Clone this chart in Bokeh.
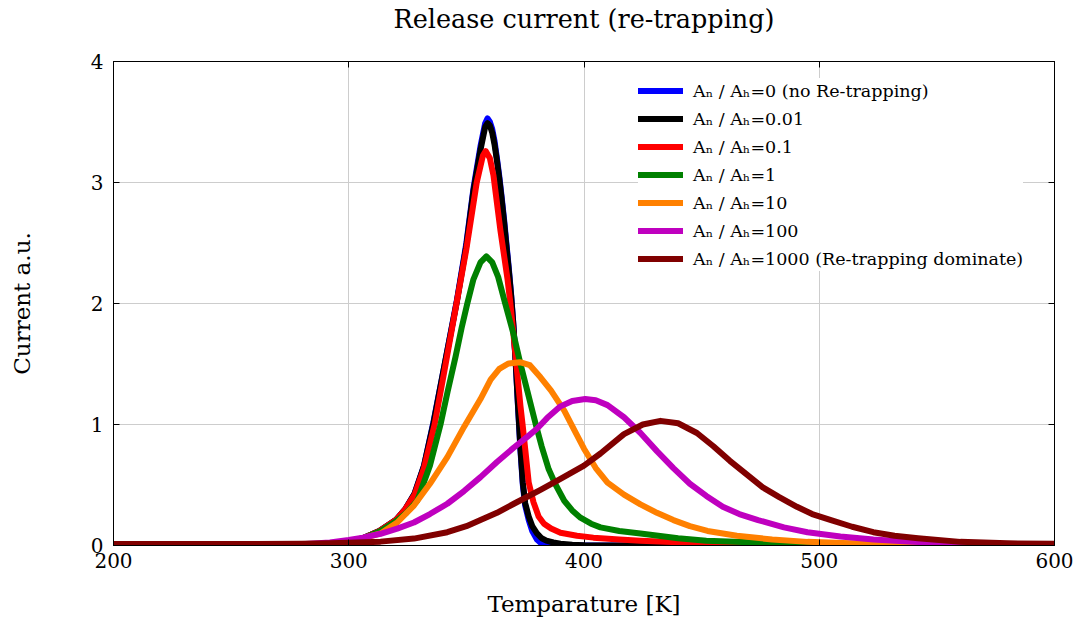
from bokeh.plotting import figure
from bokeh.models import Legend, LegendItem, LinearAxis, FixedTicker, Range1d, CustomLabelingPolicy
from bokeh.embed import file_html
from bokeh.resources import INLINE

# ---------------- data ----------------
title_text = "Release current (re-trapping)"
x_ticks = [200, 300, 400, 500, 600]
y_ticks = [0, 1, 2, 3, 4]

labels = [
    "Aₙ / Aₕ=0 (no Re-trapping)",
    "Aₙ / Aₕ=0.01",
    "Aₙ / Aₕ=0.1",
    "Aₙ / Aₕ=1",
    "Aₙ / Aₕ=10",
    "Aₙ / Aₕ=100",
    "Aₙ / Aₕ=1000 (Re-trapping dominate)",
]
colors = ["#0000ff", "#000000", "#ff0000", "#008000", "#ff8000", "#bf00bf", "#800000"]

t_r0 = [200, 260, 280, 290, 300, 306, 313, 320, 324, 328, 332, 336, 341, 346, 350, 353, 356, 358,
        359, 360, 361, 362, 363, 364, 365, 366, 367, 368, 369, 370, 371, 372, 373, 374, 375,
        376.5, 378, 380, 382, 384, 390, 600]
i_r0 = [0, 0.002, 0.006, 0.014, 0.03, 0.06, 0.12, 0.21, 0.3, 0.43, 0.66, 1.02, 1.52, 2.03, 2.5,
        2.95, 3.3, 3.49, 3.53, 3.5, 3.44, 3.34, 3.2, 3.05, 2.88, 2.7, 2.5, 2.3, 2.08, 1.82, 1.5,
        1.13, 0.78, 0.5, 0.33, 0.21, 0.12, 0.05, 0.015, 0.0, 0.0, 0.0]

t_r001 = [200, 260, 280, 290, 300, 306, 313, 320, 324, 328, 332, 336, 341, 346, 350, 353, 356, 358,
          359, 360, 361, 362, 363, 364, 365, 366, 367, 368, 369, 370, 371, 372, 373, 374, 375,
          376.5, 378, 380, 382, 384, 387, 390, 395, 400, 410, 600]
i_r001 = [0, 0.002, 0.006, 0.014, 0.03, 0.06, 0.12, 0.21, 0.3, 0.43, 0.66, 1.01, 1.52, 2.02, 2.48,
          2.93, 3.27, 3.46, 3.49, 3.47, 3.41, 3.31, 3.18, 3.03, 2.86, 2.68, 2.48, 2.28, 2.07, 1.82,
          1.5, 1.14, 0.8, 0.52, 0.35, 0.24, 0.16, 0.1, 0.06, 0.04, 0.025, 0.015, 0.007, 0.003,
          0.0, 0.0]

t_r01 = [200, 260, 280, 290, 300, 306, 313, 320, 324, 328, 332, 336.5, 341, 345.8, 350, 354.4, 357,
         358.2, 360, 361.5, 363, 364.5, 366, 367.5, 368.6, 370, 371.5, 373, 374, 375, 376.5,
         378.5, 380.7, 383, 386, 390, 397, 404, 415, 424, 440, 460, 490, 530, 600]
i_r01 = [0, 0.002, 0.006, 0.014, 0.03, 0.06, 0.12, 0.21, 0.3, 0.42, 0.64, 1.0, 1.48, 2.0, 2.45,
         3.0, 3.22, 3.26, 3.2, 3.06, 2.83, 2.6, 2.4, 2.2, 2.02, 1.75, 1.45, 1.15, 0.98, 0.8, 0.52,
         0.36, 0.24, 0.18, 0.14, 0.105, 0.08, 0.065, 0.05, 0.04, 0.027, 0.016, 0.008, 0.003, 0.0]

t_r1 = [200, 260, 280, 290, 300, 306, 313.5, 320, 324.5, 329.1, 334.5, 339, 342, 345.4, 348, 350.4,
        353, 356, 358.5, 361, 363.5, 366.5, 370, 373, 376, 379.5, 382, 385, 388, 391.6, 395,
        398.5, 403, 407, 415, 424, 440, 452, 480, 520, 560, 600]
i_r1 = [0, 0.002, 0.006, 0.014, 0.03, 0.06, 0.12, 0.2, 0.27, 0.37, 0.66, 1.0, 1.27, 1.56, 1.8, 2.0,
        2.2, 2.34, 2.39, 2.34, 2.22, 2.0, 1.75, 1.5, 1.27, 1.0, 0.82, 0.63, 0.5, 0.37, 0.29,
        0.23, 0.18, 0.15, 0.12, 0.1, 0.06, 0.04, 0.02, 0.008, 0.003, 0.0]

t_r10 = [200, 260, 280, 290, 300, 306, 313.5, 320.6, 327.7, 334.5, 341.9, 349, 356, 360.3, 364, 368,
         372.7, 377, 381.5, 386, 391.6, 396, 400, 405, 410, 417, 424, 431, 438, 445, 452.5, 465,
         480, 495, 510, 530, 560, 600]
i_r10 = [0, 0.002, 0.006, 0.014, 0.03, 0.06, 0.1, 0.19, 0.33, 0.51, 0.73, 0.98, 1.21, 1.37, 1.46,
         1.505, 1.515, 1.49, 1.39, 1.28, 1.115, 0.95, 0.8, 0.64, 0.52, 0.42, 0.34, 0.27, 0.21,
         0.16, 0.12, 0.08, 0.05, 0.03, 0.02, 0.01, 0.004, 0.0]

t_r100 = [200, 260, 280, 292, 300, 306, 313.5, 320.6, 327.7, 334.5, 341.9, 349, 356, 363, 370.2,
          376, 380, 384.4, 390, 395, 400.5, 405, 410, 417, 424, 431, 438, 445, 452, 459, 466, 474,
          485, 495, 509, 523, 540, 560, 580, 600]
i_r100 = [0, 0.003, 0.01, 0.025, 0.045, 0.065, 0.097, 0.14, 0.19, 0.26, 0.345, 0.45, 0.565, 0.69,
          0.81, 0.9, 0.965, 1.055, 1.15, 1.195, 1.21, 1.2, 1.16, 1.06, 0.93, 0.78, 0.64, 0.51,
          0.41, 0.32, 0.26, 0.21, 0.15, 0.11, 0.075, 0.05, 0.03, 0.015, 0.008, 0.004]

t_r1000 = [200, 260, 280, 292, 300, 313.5, 327.7, 341.9, 350, 356, 363, 370.2, 381.5, 390, 400,
           407, 417, 425, 432.5, 440, 448, 455, 462, 469, 476, 483, 490.5, 497, 505, 514, 523,
           532, 542, 560, 580, 600]
i_r1000 = [0.012, 0.012, 0.014, 0.018, 0.022, 0.032, 0.057, 0.11, 0.16, 0.21, 0.27, 0.345, 0.46,
           0.55, 0.66, 0.76, 0.92, 1.0, 1.03, 1.01, 0.93, 0.82, 0.70, 0.59, 0.48, 0.40, 0.32,
           0.26, 0.21, 0.155, 0.11, 0.08, 0.06, 0.03, 0.018, 0.014]

series_t = [t_r0, t_r001, t_r01, t_r1, t_r10, t_r100, t_r1000]
series_i = [i_r0, i_r001, i_r01, i_r1, i_r10, i_r100, i_r1000]

SERIF = "DejaVu Serif"

p = figure(frame_width=941, frame_height=484,
           min_border_left=113, min_border_right=24, min_border_top=61, min_border_bottom=75,
           x_range=Range1d(200, 600), y_range=Range1d(0, 4),
           output_backend="svg", toolbar_location=None,
           title=title_text + "\n\u00a0")

p.title.align = "center"
p.title.vertical_align = "bottom"
p.title.text_font = SERIF
p.title.text_font_style = "normal"
p.title.text_font_size = "25.5px"
p.title.text_line_height = 0.8
p.title.text_color = "black"
p.title.standoff = 0

p.background_fill_color = "white"
p.border_fill_color = "white"
p.outline_line_color = "black"
p.outline_line_width = 1

for ax in (p.xaxis, p.yaxis):
    ax.major_tick_in = 6
    ax.major_tick_out = 0
    ax.minor_tick_line_color = None
    ax.axis_line_color = "black"
    ax.major_tick_line_color = "black"
    ax.major_label_text_font = SERIF
    ax.major_label_text_font_size = "20px"
    ax.major_label_text_color = "black"
    ax.axis_label_text_font = SERIF
    ax.axis_label_text_font_style = "normal"
    ax.axis_label_text_font_size = "23px"
    ax.axis_label_text_color = "black"

p.xaxis.ticker = FixedTicker(ticks=x_ticks)
p.yaxis.ticker = FixedTicker(ticks=y_ticks)
p.xaxis.axis_label = "Temparature [K]"
p.yaxis.axis_label = "Current a.u."
p.xaxis.major_label_standoff = 7
p.xaxis.axis_label_standoff = 20
p.yaxis.major_label_standoff = 10
p.yaxis.axis_label_standoff = 53

hide_all = CustomLabelingPolicy(code="return new Set()")
for loc, tk in (("above", x_ticks), ("right", y_ticks)):
    ax = LinearAxis(ticker=FixedTicker(ticks=tk), major_label_policy=hide_all,
                    major_label_text_font_size="1px",
                    major_tick_in=6, major_tick_out=0, minor_tick_line_color=None,
                    axis_line_color="black", major_label_standoff=0)
    p.add_layout(ax, loc)

p.xgrid.ticker = FixedTicker(ticks=x_ticks)
p.ygrid.ticker = FixedTicker(ticks=y_ticks)
p.xgrid.grid_line_color = "#cdcdcd"
p.ygrid.grid_line_color = "#cdcdcd"

items = []
for t, i, c, lab in zip(series_t, series_i, colors, labels):
    r = p.line(t, i, line_color=c, line_width=6, line_join="round", line_cap="round")
    items.append(LegendItem(label=lab, renderers=[r]))

legend = Legend(items=items, location=(525, 274))
legend.label_text_font = SERIF
legend.label_text_font_size = "17.5px"
legend.label_text_color = "black"
legend.glyph_width = 45
legend.glyph_height = 25
legend.label_height = 25
legend.spacing = 3
legend.padding = 8
legend.margin = 0
legend.label_standoff = 10
legend.border_line_color = None
legend.background_fill_color = "white"
legend.background_fill_alpha = 1.0
p.add_layout(legend, "center")

open("out.html", "w").write(file_html(p, INLINE))
